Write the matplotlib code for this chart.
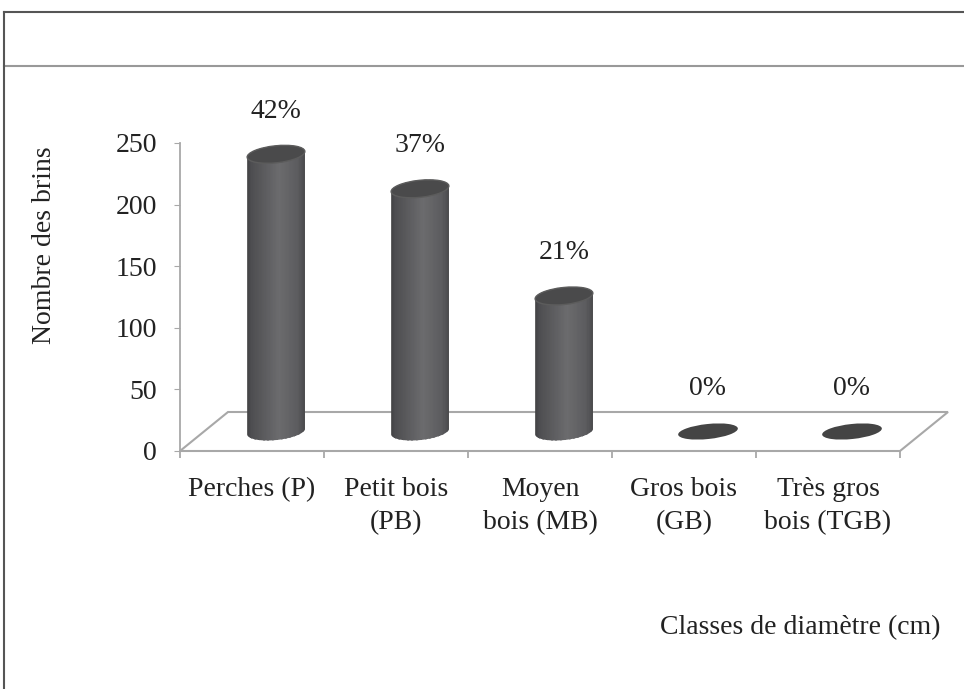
import numpy as np
import matplotlib
matplotlib.use("Agg")
import matplotlib.pyplot as plt
from matplotlib.patches import Rectangle, Ellipse, Polygon
from matplotlib.lines import Line2D
from matplotlib.transforms import Affine2D, ScaledTranslation

# data
categories = ["Perches (P)", "Petit bois\n(PB)", "Moyen\nbois (MB)", "Gros bois\n(GB)", "Très gros\nbois (TGB)"]
counts = [225, 197, 110, 0, 0]
percents = ["42%", "37%", "21%", "0%", "0%"]
yticks = [0, 50, 100, 150, 200, 250]

plt.rcParams['font.family'] = ['Liberation Serif', 'DejaVu Serif']

W, H = 964, 689
fig = plt.figure(figsize=(W / 100, H / 100), dpi=100)
ax = fig.add_axes([180 / W, (H - 451) / H, 720 / W, 308 / H])
ax.set_xlim(0, len(categories))
ax.set_ylim(0, 250)
ax.patch.set_visible(False)

axis_grey = '#a8a8a8'
text_col = '#222222'
for s in ['top', 'right']:
    ax.spines[s].set_visible(False)
for s in ['left', 'bottom']:
    ax.spines[s].set_color(axis_grey)
    ax.spines[s].set_linewidth(1.3)

ax.set_yticks(yticks)
ax.set_xticks(range(len(categories) + 1))
ax.set_xticklabels([])
ax.set_xticks(np.arange(len(categories)) + 0.5, minor=True)
ax.set_xticklabels(categories, minor=True, fontsize=20, color=text_col, linespacing=1.4)
ax.tick_params(axis='y', labelsize=20, labelcolor=text_col, color=axis_grey, length=4.5, pad=12)
ax.tick_params(axis='x', which='major', color=axis_grey, length=5, width=1.3)
ax.tick_params(axis='x', which='minor', length=0, pad=19)

# 3d depth in pixels
depth_dx, depth_dy = 48, 39
half = Affine2D().translate(depth_dx / 2, depth_dy / 2)

# floor
n = len(categories)
front = ax.transData.transform([[0, 0], [n, 0]])
back = front + [depth_dx, depth_dy]
floor = Polygon([front[0], front[1], back[1], back[0]], closed=True, transform=None,
                facecolor='white', edgecolor=axis_grey, lw=1.5, zorder=1, clip_on=False)
ax.add_artist(floor)

# cylinders
bar_px = 58
ell_h = 17
tilt = np.deg2rad(6)
rot = np.array([[np.cos(tilt), -np.sin(tilt)], [np.sin(tilt), np.cos(tilt)]])
shade_t = [0, 0.12, 0.55, 0.85, 1]
shade_v = [0.24, 0.31, 0.42, 0.36, 0.27]
nstrip = 48


def ell_pts(c, a, b, th):
    p = np.stack([a * np.cos(th), b * np.sin(th)])
    return (rot @ p).T + c


for i, v in enumerate(counts):
    xc = i + 0.5
    bc = ax.transData.transform((xc, 0)) + [depth_dx / 2, depth_dy / 2]
    if v > 0:
        tc = ax.transData.transform((xc, v)) + [depth_dx / 2, depth_dy / 2]
        lower = ell_pts(bc, bar_px / 2, ell_h / 2, np.linspace(np.pi, 2 * np.pi, 60))
        upper = ell_pts(tc, bar_px / 2, ell_h / 2, np.linspace(0, np.pi, 60))
        sil = Polygon(np.vstack([lower, upper]), closed=True, transform=None)
        x0 = bc[0] - bar_px / 2 - 2
        sw = (bar_px + 4) / nstrip
        for k in range(nstrip):
            t = (k + 0.5) / nstrip
            g = np.interp(t, shade_t, shade_v)
            r = Rectangle((x0 + k * sw, bc[1] - 20), sw + 0.6, tc[1] - bc[1] + 40,
                          facecolor=(g, g, g + 0.01), edgecolor='none', transform=None, zorder=4)
            ax.add_artist(r)
            r.set_clip_path(sil)
        top = Ellipse((0, 0), bar_px, ell_h, angle=np.rad2deg(tilt), facecolor='#4a4a4b',
                      edgecolor='#5c5c5c', lw=1,
                      transform=ScaledTranslation(xc, v, ax.transData) + half, zorder=5)
        ax.add_patch(top)
    else:
        flat = Ellipse((0, 0), 60, 15, angle=np.rad2deg(tilt), facecolor='#444444', edgecolor='none',
                       transform=ScaledTranslation(xc, v, ax.transData) + half, zorder=5)
        ax.add_patch(flat)
    ax.text(xc, v + 35, percents[i], fontsize=20, color=text_col, ha='center', va='center',
            transform=ax.transData + half, zorder=6)

# titles
fig.text(45 / W, 1 - 245 / H, "Nombre des brins", rotation=90, fontsize=20, color=text_col,
         ha='center', va='center')
fig.text(940 / W, 1 - 628 / H, "Classes de diamètre (cm)", fontsize=20, color=text_col,
         ha='right', va='center')

# frame lines
fig.add_artist(Line2D([4 / W, 1], [1 - 12 / H, 1 - 12 / H], color='#555555', lw=1.5))
fig.add_artist(Line2D([4 / W, 1], [1 - 66 / H, 1 - 66 / H], color='#999999', lw=1.5))
fig.add_artist(Line2D([4 / W, 4 / W], [0, 1 - 12 / H], color='#555555', lw=1.5))

fig.savefig("out.png", dpi=100)
